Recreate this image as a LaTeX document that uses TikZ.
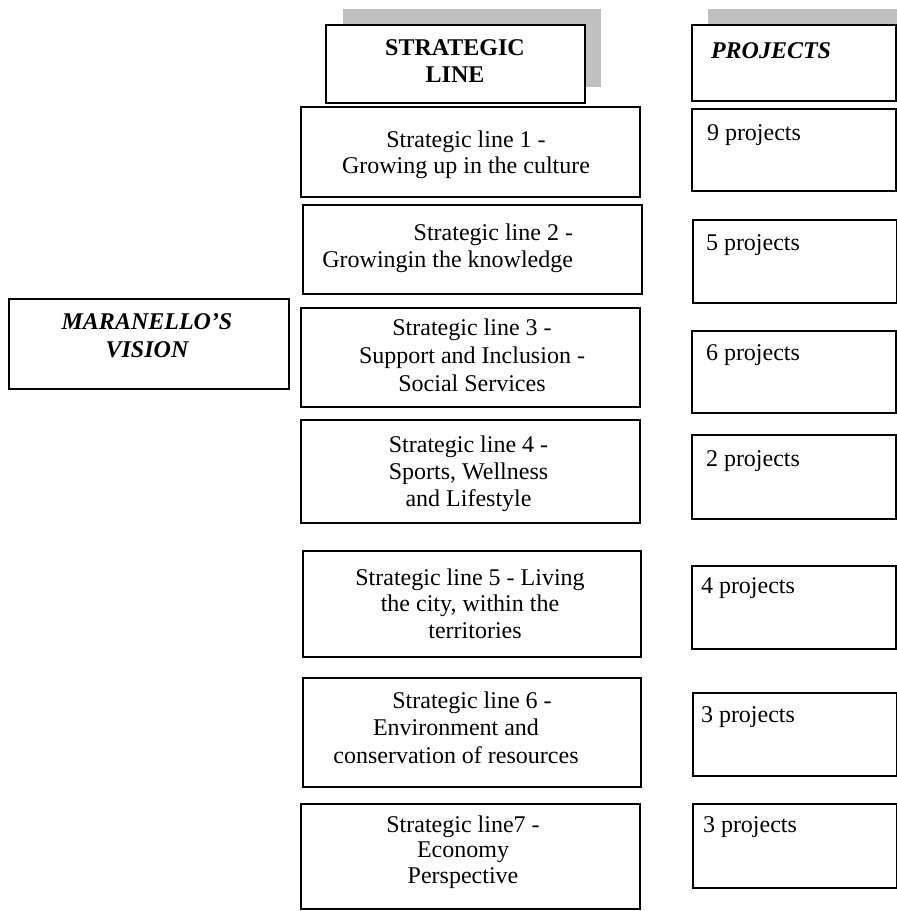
\documentclass[tikz,border=0pt]{standalone}
\usepackage{fontspec}
\setmainfont{Liberation Serif}
\definecolor{shadowgray}{RGB}{192,192,192}
\tikzset{
  box/.style={draw=black, line width=1.8pt, fill=white, inner sep=0pt, outer sep=0pt, anchor=north west},
  shadowbox/.style={fill=shadowgray, draw=none, inner sep=0pt, outer sep=0pt, anchor=north west},
  txt/.style={font=\fontsize{24}{27}\selectfont, inner sep=0pt, outer sep=0pt, align=center, anchor=base},
  txtl/.style={font=\fontsize{24}{27}\selectfont, inner sep=0pt, outer sep=0pt, anchor=base west},
  hdr/.style={txt, font=\fontsize{24}{27}\selectfont\bfseries},
  hdrit/.style={txt, font=\fontsize{24}{28}\selectfont\bfseries\itshape},
}
\begin{document}
\begin{tikzpicture}[x=1pt, y=-1pt]
\useasboundingbox (0,0) rectangle (897,911);

% header: strategic line
\node[shadowbox, minimum width=258pt, minimum height=78pt] (slshadow) at (343,9) {};
\node[box, minimum width=259pt, minimum height=78pt] (slhead) at (326,25) {};
\node[hdr] (slheadt) at (455,82) {STRATEGIC\\LINE};

% header: projects
\node[shadowbox, minimum width=204pt, minimum height=76pt] (prshadow) at (708,9) {};
\node[box, minimum width=204pt, minimum height=76pt] (prhead) at (692,25) {};
\node[txtl, font=\fontsize{24}{27}\selectfont\bfseries\itshape] (prheadt) at (711,58) {PROJECTS};

% vision
\node[box, minimum width=280pt, minimum height=90pt] (vision) at (9,299) {};
\node[hdrit] (visiont) at (147,357) {MARANELLO’S\\VISION};

% strategic lines (base anchor = baseline of the last line)
\node[box, minimum width=339pt, minimum height=90pt] (sl1) at (301,107) {};
\node[txt, font=\fontsize{24}{26.5}\selectfont] (sl1t) at (466,173.5) {Strategic line 1 -\\Growing up in the culture};

\node[box, minimum width=339pt, minimum height=89pt] (sl2) at (303,205) {};
\node[txt, align=right, anchor=base east, font=\fontsize{24}{27.5}\selectfont] (sl2t) at (573,267.5) {Strategic line 2 -\\Growingin the knowledge};

\node[box, minimum width=339pt, minimum height=99pt] (sl3) at (301,308) {};
\node[txt, font=\fontsize{24}{28}\selectfont] (sl3t) at (472,391) {Strategic line 3 -\\Support and Inclusion -\\Social Services};

\node[box, minimum width=339pt, minimum height=103pt] (sl4) at (301,420) {};
\node[txt] (sl4t) at (468.5,506) {Strategic line 4 -\\Sports, Wellness\\and Lifestyle};

\node[box, minimum width=338pt, minimum height=106pt] (sl5) at (303,551) {};
\node[txt, font=\fontsize{24}{26.5}\selectfont] (sl5t) at (470,638) {Strategic line 5 - Living\\the city, within the\\\hspace*{10pt}territories};

\node[box, minimum width=338pt, minimum height=109pt] (sl6) at (303,678) {};
\node[txt, font=\fontsize{24}{27.5}\selectfont] (sl6t) at (456,763) {\hspace*{32pt}Strategic line 6 -\\Environment and\\conservation of resources};

\node[box, minimum width=339pt, minimum height=105pt] (sl7) at (301,804) {};
\node[txt, font=\fontsize{24}{25.5}\selectfont] (sl7t) at (463,883) {Strategic line7 -\\Economy\\Perspective};

% projects
\node[box, minimum width=204pt, minimum height=82pt] (p1) at (692,109) {};
\node[txtl] (p1t) at (707,140) {9 projects};
\node[box, minimum width=204pt, minimum height=83pt] (p2) at (693,220) {};
\node[txtl] (p2t) at (706,250) {5 projects};
\node[box, minimum width=204pt, minimum height=82pt] (p3) at (692,331) {};
\node[txtl] (p3t) at (706,360) {6 projects};
\node[box, minimum width=204pt, minimum height=84pt] (p4) at (692,435) {};
\node[txtl] (p4t) at (706,466) {2 projects};
\node[box, minimum width=204pt, minimum height=83pt] (p5) at (692,566) {};
\node[txtl] (p5t) at (701,593) {4 projects};
\node[box, minimum width=204pt, minimum height=83pt] (p6) at (693,693) {};
\node[txtl] (p6t) at (701,722) {3 projects};
\node[box, minimum width=204pt, minimum height=84pt] (p7) at (693,804) {};
\node[txtl] (p7t) at (703,832) {3 projects};
\end{tikzpicture}
\end{document}
